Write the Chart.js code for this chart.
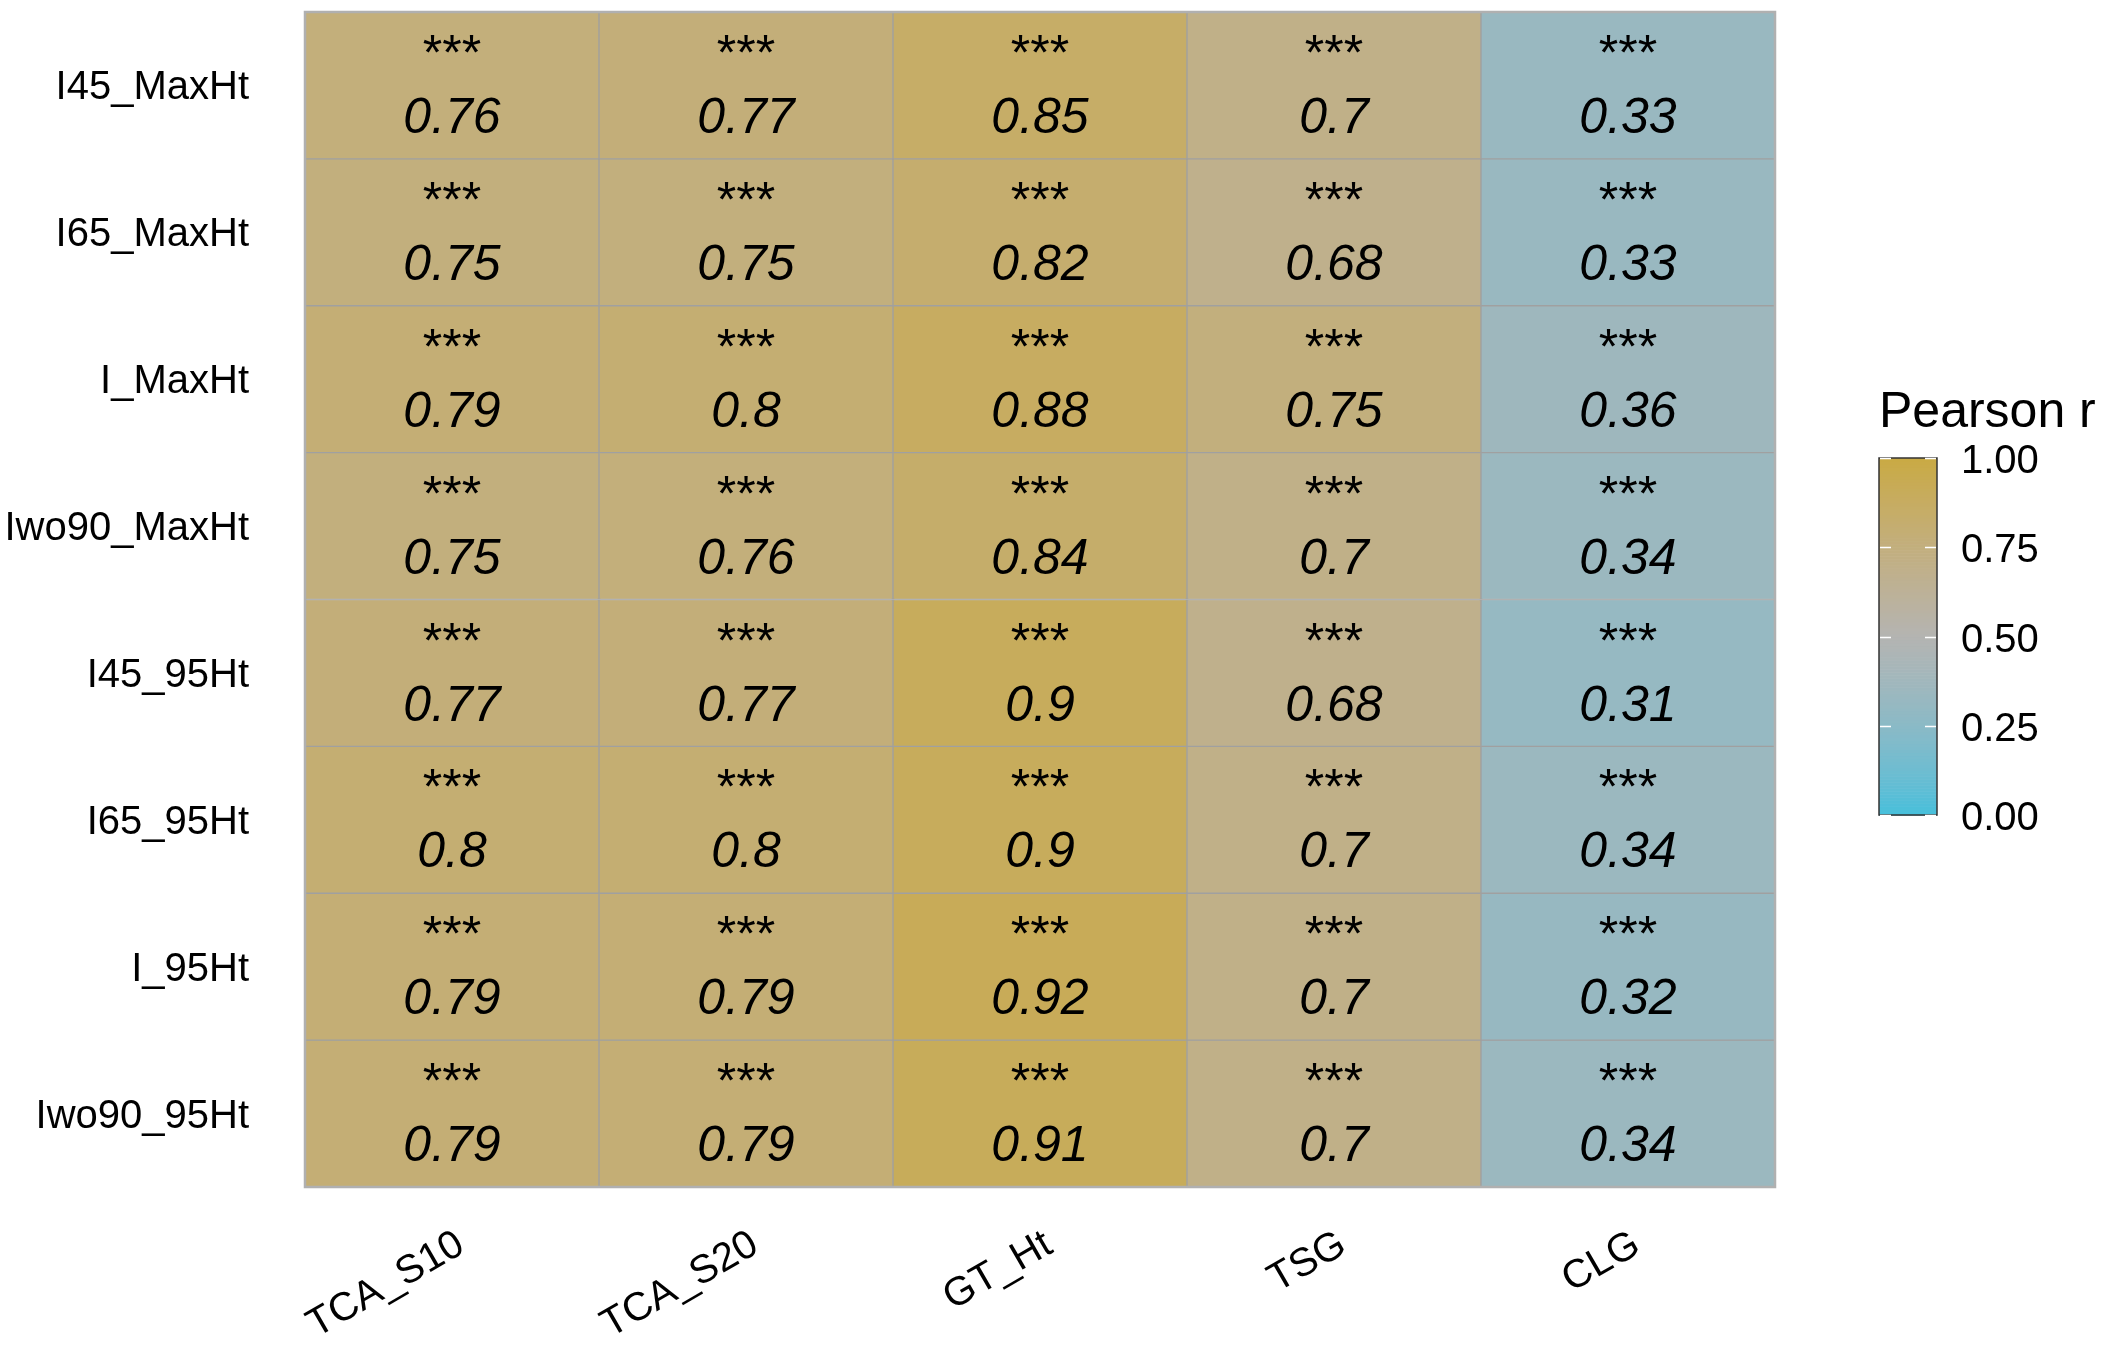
<!DOCTYPE html>
<html>
<head>
<meta charset="utf-8">
<script src="https://cdn.jsdelivr.net/npm/chart.js@4.4.1/dist/chart.umd.min.js"></script>
<style>
  html, body { margin: 0; padding: 0; background: #ffffff; }
  #wrap { position: relative; width: 2115px; height: 1353px; }
  canvas { display: block; }
</style>
</head>
<body>
<div id="wrap"><canvas id="c" width="2115" height="1353"></canvas></div>
<script>
// ---------------- data ----------------
const rowLabels = ["I45_MaxHt", "I65_MaxHt", "I_MaxHt", "Iwo90_MaxHt", "I45_95Ht", "I65_95Ht", "I_95Ht", "Iwo90_95Ht"];
const colLabels = ["TCA_S10", "TCA_S20", "GT_Ht", "TSG", "CLG"];
// correlation per row (columns in colLabels order)
const r_I45_MaxHt   = [0.76, 0.77, 0.85, 0.70, 0.33];
const r_I65_MaxHt   = [0.75, 0.75, 0.82, 0.68, 0.33];
const r_I_MaxHt     = [0.79, 0.80, 0.88, 0.75, 0.36];
const r_Iwo90_MaxHt = [0.75, 0.76, 0.84, 0.70, 0.34];
const r_I45_95Ht    = [0.77, 0.77, 0.90, 0.68, 0.31];
const r_I65_95Ht    = [0.80, 0.80, 0.90, 0.70, 0.34];
const r_I_95Ht      = [0.79, 0.79, 0.92, 0.70, 0.32];
const r_Iwo90_95Ht  = [0.79, 0.79, 0.91, 0.70, 0.34];
const values = [r_I45_MaxHt, r_I65_MaxHt, r_I_MaxHt, r_Iwo90_MaxHt, r_I45_95Ht, r_I65_95Ht, r_I_95Ht, r_Iwo90_95Ht];
const stars = ["***", "***", "***", "***", "***", "***", "***", "***"]; // significance per row (all p < 0.001)
const legendTicks = [0, 0.25, 0.5, 0.75, 1.0];
const legendTitle = "Pearson r";

// ---------------- colour scale (low / mid / high, Lab interpolation) ----------------
const colLow = "#44bfdb", colMid = "#b4b4b2", colHigh = "#c9aa44";
function hex2rgb(h) { return [1,3,5].map(i => parseInt(h.substr(i,2),16)); }
function srgb2lin(c){ c/=255; return c<=0.04045? c/12.92 : Math.pow((c+0.055)/1.055,2.4); }
function lin2srgb(c){ c = c<=0.0031308? 12.92*c : 1.055*Math.pow(c,1/2.4)-0.055; return Math.max(0,Math.min(255,Math.round(c*255))); }
function rgb2lab(rgb){
  const [r,g,b] = rgb.map(srgb2lin);
  let X=(0.4124*r+0.3576*g+0.1805*b)/0.95047, Y=(0.2126*r+0.7152*g+0.0722*b), Z=(0.0193*r+0.1192*g+0.9505*b)/1.08883;
  const f=t=> t>0.008856? Math.cbrt(t) : 7.787*t+16/116;
  const fx=f(X), fy=f(Y), fz=f(Z);
  return [116*fy-16, 500*(fx-fy), 200*(fy-fz)];
}
function lab2rgb(lab){
  const [L,a,bb]=lab; const fy=(L+16)/116, fx=fy+a/500, fz=fy-bb/200;
  const fi=t=> t*t*t>0.008856? t*t*t : (t-16/116)/7.787;
  const X=fi(fx)*0.95047, Y=fi(fy), Z=fi(fz)*1.08883;
  const r= 3.2406*X-1.5372*Y-0.4986*Z, g=-0.9689*X+1.8758*Y+0.0415*Z, b=0.0557*X-0.2040*Y+1.0570*Z;
  return [lin2srgb(r),lin2srgb(g),lin2srgb(b)];
}
const labLow = rgb2lab(hex2rgb(colLow)), labMid = rgb2lab(hex2rgb(colMid)), labHigh = rgb2lab(hex2rgb(colHigh));
function colorFor(v){
  let a, b, t;
  if (v <= 0.5) { a = labLow; b = labMid; t = v/0.5; } else { a = labMid; b = labHigh; t = (v-0.5)/0.5; }
  t = Math.max(0, Math.min(1, t));
  const rgb = lab2rgb([0,1,2].map(i => a[i] + (b[i]-a[i])*t));
  return `rgb(${rgb[0]},${rgb[1]},${rgb[2]})`;
}

// ---------------- datasets: one floating bar per cell ----------------
const datasets = rowLabels.map((name, r) => ({
  label: name,
  data: values[r].map(() => [r, r + 1]),
  backgroundColor: values[r].map(colorFor),
  borderColor: "#a0a0a0",
  borderWidth: 1,
  borderSkipped: false,
  grouped: false,
  barPercentage: 1,
  categoryPercentage: 1
}));

const FONT = "'Liberation Sans', Arial, Helvetica, sans-serif";
Chart.defaults.color = "#000";
Chart.defaults.font.family = FONT;

// cell text plugin
const cellText = {
  id: "cellText",
  afterDatasetsDraw(chart) {
    const ctx = chart.ctx;
    ctx.save();
    ctx.fillStyle = "#000";
    ctx.textAlign = "center";
    ctx.textBaseline = "alphabetic";
    chart.data.datasets.forEach((ds, r) => {
      const meta = chart.getDatasetMeta(r);
      meta.data.forEach((el, c) => {
        const cx = el.x;
        const cy = (el.y + el.base) / 2;
        const h = Math.abs(el.base - el.y);
        ctx.font = `50px ${FONT}`;
        ctx.fillText(stars[r], cx, cy - h * 0.105);
        ctx.font = `italic 50px ${FONT}`;
        ctx.fillText(String(values[r][c]), cx, cy + h * 0.324);
      });
    });
    // outer frame
    const a = chart.chartArea;
    ctx.strokeStyle = "#b0b0b0";
    ctx.lineWidth = 2.5;
    ctx.strokeRect(a.left, a.top, a.right - a.left, a.bottom - a.top);
    ctx.restore();
  }
};

// colour bar legend plugin
const colorBar = {
  id: "colorBar",
  afterDraw(chart) {
    const ctx = chart.ctx;
    const x0 = 1879, x1 = 1937, yTop = 458, yBot = 815;
    const yOf = v => yBot - (yBot - yTop) * v;
    ctx.save();
    // title
    ctx.fillStyle = "#000";
    ctx.font = `50px ${FONT}`;
    ctx.textAlign = "left";
    ctx.textBaseline = "alphabetic";
    ctx.fillText(legendTitle, 1879, 427);
    // gradient
    const n = 120;
    for (let i = 0; i < n; i++) {
      const v0 = i / n, v1 = (i + 1) / n;
      ctx.fillStyle = colorFor((v0 + v1) / 2);
      ctx.fillRect(x0, yOf(v1), x1 - x0, yOf(v0) - yOf(v1) + 0.6);
    }
    // frame
    ctx.strokeStyle = "#333";
    ctx.lineWidth = 1.5;
    ctx.strokeRect(x0, yTop, x1 - x0, yBot - yTop);
    // ticks
    ctx.strokeStyle = "#fff";
    ctx.lineWidth = 1.5;
    legendTicks.forEach(v => {
      const y = Math.round(yOf(v)) + 0.5;
      ctx.beginPath();
      ctx.moveTo(x0 + 1, y); ctx.lineTo(x0 + 12, y);
      ctx.moveTo(x1 - 12, y); ctx.lineTo(x1 - 1, y);
      ctx.stroke();
    });
    // labels
    ctx.fillStyle = "#000";
    ctx.font = `40px ${FONT}`;
    ctx.textBaseline = "middle";
    legendTicks.forEach(v => {
      ctx.fillText(v.toFixed(2), 1961, yOf(v) + 4);
    });
    ctx.restore();
  }
};

function zeroPad(axis) { axis.paddingTop = 0; axis.paddingBottom = 0; axis.paddingLeft = 0; axis.paddingRight = 0; }

new Chart(document.getElementById("c"), {
  type: "bar",
  data: { labels: colLabels, datasets },
  plugins: [cellText, colorBar],
  options: {
    responsive: false,
    animation: false,
    layout: { padding: { left: 0, right: 340, top: 12, bottom: 0 } },
    plugins: { legend: { display: false }, tooltip: { enabled: false } },
    scales: {
      x: {
        type: "category",
        offset: true,
        grid: { display: false, drawTicks: false },
        border: { display: false },
        ticks: {
          font: { size: 40, family: FONT },
          color: "#000",
          minRotation: 30,
          maxRotation: 30,
          padding: 34,
          labelOffset: 9
        },
        afterFit(axis) { axis.height = 166; zeroPad(axis); }
      },
      y: {
        type: "linear",
        min: 0,
        max: 8,
        reverse: true,
        grid: { display: false, drawTicks: false },
        border: { display: false },
        afterBuildTicks(axis) { axis.ticks = rowLabels.map((_, i) => ({ value: i + 0.5 })); },
        ticks: {
          font: { size: 40, family: FONT },
          color: "#000",
          padding: 56,
          autoSkip: false,
          labelOffset: 3,
          callback: (v) => rowLabels[Math.floor(v)]
        },
        afterFit(axis) { axis.width = 305; zeroPad(axis); }
      }
    }
  }
});
</script>
</body>
</html>
